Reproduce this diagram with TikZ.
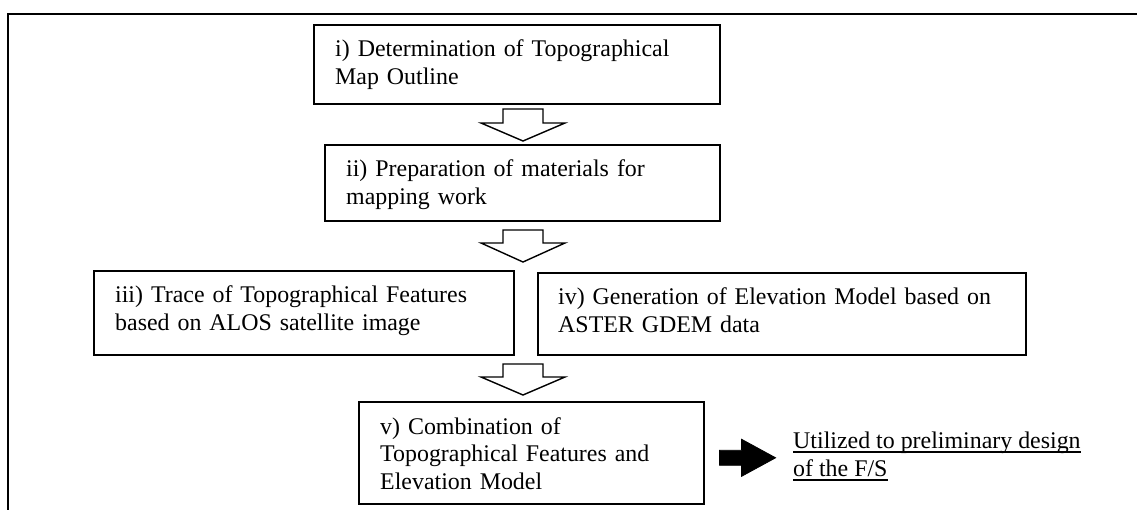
\documentclass[tikz,border=0pt]{standalone}
\usepackage{fontspec}
\setmainfont{Liberation Serif}
\usetikzlibrary{calc}
\begin{document}
\begin{tikzpicture}[x=1pt,y=-1pt,
  stepbox/.style={draw=black,line width=1.6pt,rectangle,inner sep=0pt,anchor=north west},
  steptext/.style={anchor=base west,inner sep=0pt,align=left,text width=520pt,
    font=\fontsize{23.9}{27.5}\selectfont},
  outtext/.style={anchor=base west,inner sep=0pt,font=\fontsize{23.9}{27.5}\selectfont},
  underl/.style={draw=black,line width=1.3pt},
  frameline/.style={draw=black,line width=1.6pt},
  hollow/.style={draw=black,line width=1.4pt,fill=white,line join=miter},
  solidarrow/.style={fill=black,draw=black,line width=0.8pt}]
\useasboundingbox (0,0) rectangle (1137,510);
% outer frame
\draw[frameline] (1140,14) -- (8,14) -- (8,512);
% boxes
\node[stepbox,minimum width=406pt,minimum height=79pt] (b1) at (313,24) {};
\node[stepbox,minimum width=395pt,minimum height=76pt] (b2) at (324,144) {};
\node[stepbox,minimum width=420pt,minimum height=84pt] (b3) at (93,270) {};
\node[stepbox,minimum width=488pt,minimum height=82pt] (b4) at (537,272) {};
\node[stepbox,minimum width=345pt,minimum height=102pt] (b5) at (358,401) {};
% texts
\node[steptext] (t1) at ($(b1.north west)+(22,33)$) {i) Determination of Topographical\\Map Outline};
\node[steptext] (t2) at ($(b2.north west)+(22,33)$) {ii) Preparation of materials for\\mapping work};
\node[steptext] (t3) at ($(b3.north west)+(22,33)$) {iii) Trace of Topographical Features\\based on ALOS satellite image};
\node[steptext] (t4) at ($(b4.north west)+(21,33)$) {iv) Generation of Elevation Model based on\\ASTER GDEM data};
\node[steptext] (t5) at ($(b5.north west)+(22,33)$) {v) Combination of\\Topographical Features and\\Elevation Model};
\node[outtext] (o1) at (793,448) {Utilized to preliminary design};
\node[outtext] (o2) at (793,476) {of the F/S};
\draw[underl] ($(o1.base west)+(0,4)$) -- ($(o1.base east)+(0,4)$);
\draw[underl] ($(o2.base west)+(0,4)$) -- ($(o2.base east)+(0,4)$);
% hollow block arrows
\newcommand{\hollowarrow}[3]{%
  \draw[hollow] ($(#1)+(-20,0)$) -- ($(#1)+(20,0)$) -- ($(#1)+(20,#2)$) -- ($(#1)+(42,#2)$)
    -- ($(#1)+(0,#3)$) -- ($(#1)+(-42,#2)$) -- ($(#1)+(-20,#2)$) -- cycle;}
\coordinate (a1) at ($(b1.south)!0!(b1.south) + (0,6)$);
\coordinate (a1) at (523,109);
\coordinate (a2) at (523,230);
\coordinate (a3) at (523,364);
\hollowarrow{a1}{14}{32}
\hollowarrow{a2}{13}{32}
\hollowarrow{a3}{13}{31}
% solid arrow from box v to output text
\coordinate (s0) at ($(b5.east)+(15,5)$);
\draw[solidarrow] (s0) ++(0,-7.5) -- ++(22,0) -- ++(0,-11) -- ++(34,18.5) -- ++(-34,18.5) -- ++(0,-11) -- ++(-22,0) -- cycle;
\end{tikzpicture}
\end{document}
